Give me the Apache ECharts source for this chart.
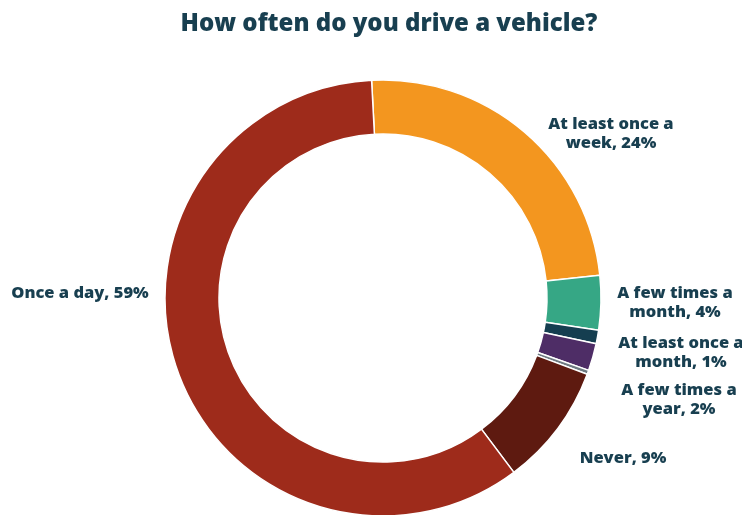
<!DOCTYPE html>
<html>
<head>
<meta charset="utf-8">
<script src="https://cdn.jsdelivr.net/npm/echarts@6/dist/echarts.min.js"></script>
<style>
  html, body { margin: 0; padding: 0; background: #ffffff; }
  #chart { width: 742px; height: 515px; }
</style>
</head>
<body>
<div id="chart"></div>
<script>
// Survey answers, clockwise from the top
const categories = [
  'At least once a week',
  'A few times a month',
  'At least once a month',
  'A few times a year',
  'Other',
  'Never',
  'Once a day'
];
const shares = [24, 4, 1, 2, 0.3, 9, 59];
const showLabel = [true, true, true, true, false, true, true];
const labelLines = [
  ['At least once a', 'week, 24%'],
  ['A few times a', 'month, 4%'],
  ['At least once a', 'month, 1%'],
  ['A few times a', 'year, 2%'],
  [],
  ['Never, 9%'],
  ['Once a day, 59%']
];
const colors = ['#F3961F', '#36A785', '#153E50', '#4E2D66', '#6F7B82', '#5E1A10', '#9E2B1B'];

// label anchor points (centre of each text block)
const labelSpots = [
  [611, 134], [675, 303], [681, 353], [679, 400], [0, 0], [623, 458], [80, 293]
];

const chart = echarts.init(document.getElementById('chart'), null, { renderer: 'canvas' });
const FONT = '"Open Sans"';
const TEXT = '#183F50';

chart.setOption({
  animation: false,
  title: {
    text: 'How often do you drive a vehicle?',
    left: 384,
    textAlign: 'center',
    top: 7,
    textStyle: { fontFamily: FONT, fontWeight: 800, fontSize: 24, color: TEXT }
  },
  series: [{
    type: 'pie',
    center: [383, 298],
    radius: [164, 218],
    startAngle: 93,
    clockwise: true,
    avoidLabelOverlap: false,
    itemStyle: { borderColor: '#ffffff', borderWidth: 1.5 },
    label: {
      show: true,
      position: 'outside',
      fontFamily: FONT,
      fontWeight: 800,
      fontSize: 16.5,
      lineHeight: 19,
      color: TEXT,
      align: 'center',
      formatter: p => labelLines[p.dataIndex].join('\n')
    },
    labelLine: { show: false },
    labelLayout: p => ({
      x: labelSpots[p.dataIndex][0],
      y: labelSpots[p.dataIndex][1],
      align: 'center',
      verticalAlign: 'middle'
    }),
    data: categories.map((name, i) => ({
      name: name,
      value: shares[i],
      itemStyle: { color: colors[i] },
      label: { show: showLabel[i] }
    }))
  }]
});
</script>
</body>
</html>
